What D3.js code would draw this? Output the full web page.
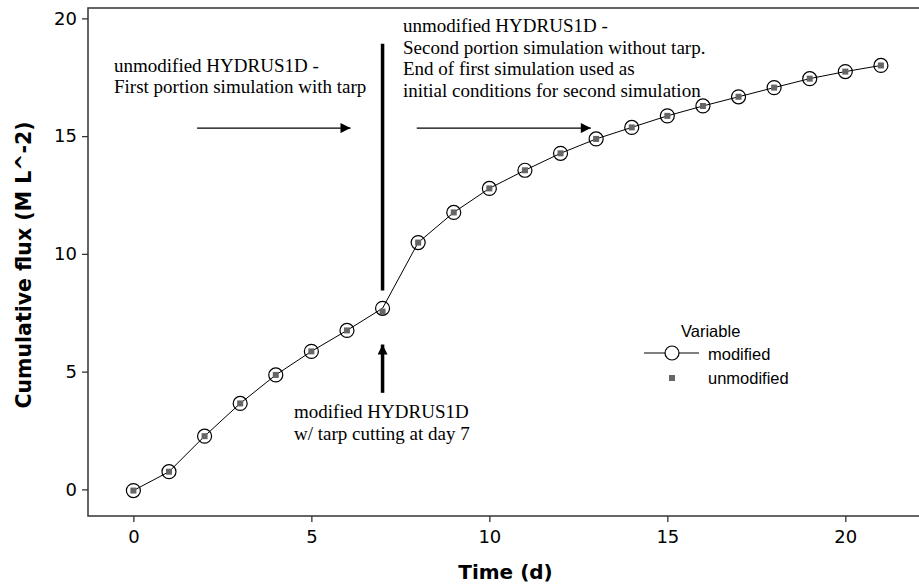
<!DOCTYPE html>
<html>
<head>
<meta charset="utf-8">
<script src="https://cdn.jsdelivr.net/npm/d3@7"></script>
<style>
  body { margin: 0; background: #fff; }
  svg { display: block; }
</style>
</head>
<body>
<script>
// Data
const days = [0, 1, 2, 3, 4, 5, 6, 7, 8, 9, 10, 11, 12, 13, 14, 15, 16, 17, 18, 19, 20, 21];
const modified = [-0.05, 0.75, 2.26, 3.65, 4.86, 5.86, 6.75, 7.69, 10.48, 11.76, 12.78, 13.55, 14.27, 14.88, 15.37, 15.86, 16.28, 16.67, 17.06, 17.44, 17.74, 18.0];
const unmodified = [-0.05, 0.75, 2.26, 3.65, 4.86, 5.86, 6.75, 7.55, 10.48, 11.76, 12.78, 13.55, 14.27, 14.88, 15.37, 15.86, 16.28, 16.67, 17.06, 17.44, 17.74, 18.0];
const xTicks = [0, 5, 10, 15, 20];
const yTicks = [0, 5, 10, 15, 20];

const width = 919;
const height = 584;
const margin = { top: 8, right: 0, bottom: 68, left: 88 };

const x = d3.scaleLinear().domain([-1.275, 22.07]).range([margin.left, width - margin.right]);
const y = d3.scaleLinear().domain([-1.13, 20.44]).range([height - margin.bottom, margin.top]);

const svg = d3.select("body").append("svg")
  .attr("width", width)
  .attr("height", height);

svg.append("defs").append("marker")
  .attr("id", "head")
  .attr("viewBox", "0 0 10 10")
  .attr("refX", 10).attr("refY", 5)
  .attr("markerUnits", "userSpaceOnUse")
  .attr("markerWidth", 12).attr("markerHeight", 10)
  .attr("orient", "auto")
  .append("path").attr("d", "M0,0L10,5L0,10Z").attr("fill", "#000");

// frame (top, left, bottom)
const frame = svg.append("g").attr("stroke", "#333").attr("stroke-width", 1.5).attr("fill", "none");
frame.append("path").attr("d", `M${width},${margin.top}H${margin.left}V${height - margin.bottom}H${width}`);

// axes
const xAxis = svg.append("g")
  .attr("transform", `translate(0,${height - margin.bottom})`)
  .call(d3.axisBottom(x).tickValues(xTicks).tickSize(6).tickPadding(8));
const yAxis = svg.append("g")
  .attr("transform", `translate(${margin.left},0)`)
  .call(d3.axisLeft(y).tickValues(yTicks).tickSize(6).tickPadding(5));
[xAxis, yAxis].forEach(a => {
  a.select(".domain").remove();
  a.selectAll("line").attr("stroke", "#333").attr("stroke-width", 1.3);
  a.selectAll("text").attr("font-family", "DejaVu Sans, sans-serif").attr("font-size", 18).attr("fill", "#000");
});

svg.append("text")
  .attr("x", (margin.left + width) / 2 + 2).attr("y", 579)
  .attr("text-anchor", "middle")
  .attr("font-family", "DejaVu Sans, sans-serif").attr("font-weight", "bold").attr("font-size", 20)
  .text("Time (d)");

svg.append("text")
  .attr("transform", `translate(31,${(margin.top + height - margin.bottom) / 2 + 3}) rotate(-90)`)
  .attr("text-anchor", "middle")
  .attr("font-family", "DejaVu Sans, sans-serif").attr("font-weight", "bold").attr("font-size", 20.5)
  .text("Cumulative flux (M L^-2)");

// series
const pts = days.map((d, i) => ({ d, m: modified[i], u: unmodified[i] }));

svg.append("path")
  .datum(pts)
  .attr("fill", "none").attr("stroke", "#000").attr("stroke-width", 1)
  .attr("d", d3.line().x(p => x(p.d)).y(p => y(p.m)));

svg.append("g").selectAll("rect")
  .data(pts).join("rect")
  .attr("x", p => x(p.d) - 3).attr("y", p => y(p.u) - 3)
  .attr("width", 6).attr("height", 6)
  .attr("fill", "#666");

svg.append("g").selectAll("circle")
  .data(pts).join("circle")
  .attr("cx", p => x(p.d)).attr("cy", p => y(p.m))
  .attr("r", 7)
  .attr("fill", "none").attr("stroke", "#000").attr("stroke-width", 1.2);

// annotations
const serif = "Liberation Serif, Times New Roman, serif";
function textBlock(tx, ty, lines, lh) {
  const t = svg.append("text")
    .attr("font-family", serif).attr("font-size", 19).attr("fill", "#000");
  lines.forEach((l, i) => t.append("tspan").attr("x", tx).attr("y", ty + i * lh).text(l));
}
textBlock(114, 72, ["unmodified HYDRUS1D -", "First portion simulation with tarp"], 21);
textBlock(403, 32, ["unmodified HYDRUS1D -", "Second portion simulation without tarp.", "End of first simulation used as", "initial conditions for second simulation"], 21.6);
textBlock(294, 418, ["modified HYDRUS1D", "w/ tarp cutting at day 7"], 21.5);

svg.append("line")
  .attr("x1", x(1.79)).attr("x2", x(6.1)).attr("y1", y(15.34)).attr("y2", y(15.34))
  .attr("stroke", "#000").attr("stroke-width", 1.2).attr("marker-end", "url(#head)");
svg.append("line")
  .attr("x1", x(7.96)).attr("x2", x(12.85)).attr("y1", y(15.34)).attr("y2", y(15.34))
  .attr("stroke", "#000").attr("stroke-width", 1.2).attr("marker-end", "url(#head)");
svg.append("line")
  .attr("x1", x(7)).attr("x2", x(7)).attr("y1", y(18.92)).attr("y2", y(8.45))
  .attr("stroke", "#000").attr("stroke-width", 3.5);
svg.append("line")
  .attr("x1", x(7)).attr("x2", x(7)).attr("y1", y(4.1)).attr("y2", y(6.15))
  .attr("stroke", "#000").attr("stroke-width", 3.5).attr("marker-end", "url(#head)");

// legend
const lg = svg.append("g").attr("font-family", "Liberation Sans, Arial, sans-serif").attr("font-size", 16.5);
lg.append("text").attr("x", 681).attr("y", 337).text("Variable");
lg.append("line").attr("x1", 644).attr("x2", 699).attr("y1", 353).attr("y2", 353).attr("stroke", "#000");
lg.append("circle").attr("cx", 672).attr("cy", 353).attr("r", 7).attr("fill", "#fff").attr("stroke", "#000").attr("stroke-width", 1.2);
lg.append("text").attr("x", 708).attr("y", 360).text("modified");
lg.append("rect").attr("x", 669).attr("y", 375).attr("width", 6).attr("height", 6).attr("fill", "#666");
lg.append("text").attr("x", 708).attr("y", 384).text("unmodified");
</script>
</body>
</html>
